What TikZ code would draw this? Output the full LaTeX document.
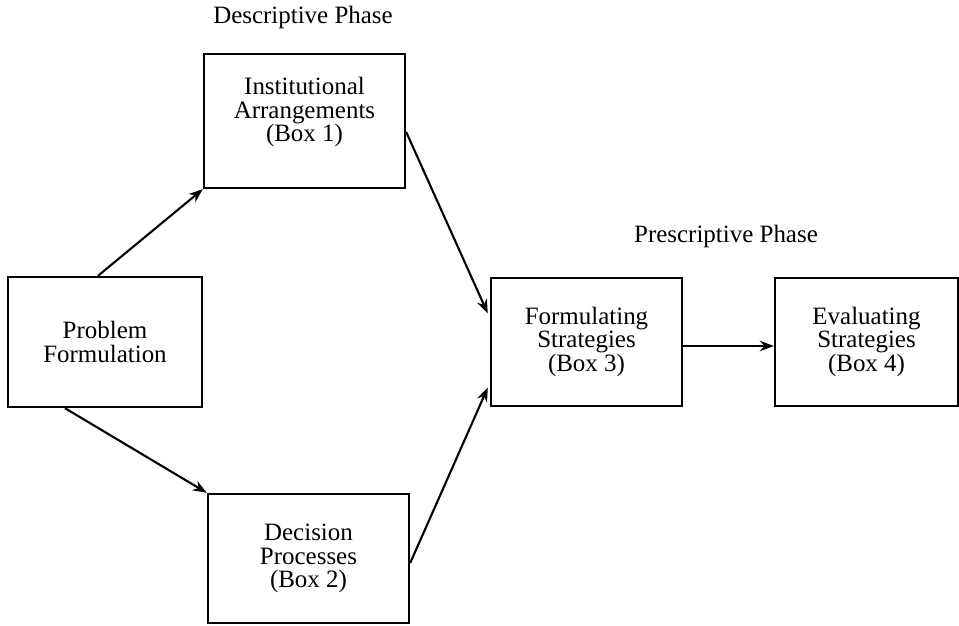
\documentclass[tikz,border=0pt]{standalone}
\usepackage{fontspec}
\setmainfont{Liberation Serif}
\usetikzlibrary{arrows.meta}
\begin{document}
\begin{tikzpicture}[
        box/.style={draw=black, line width=1.35pt, align=center, inner sep=0pt,
            font=\fontsize{14.2}{13.4}\selectfont},
        arr/.style={-{Stealth[length=2.8mm,width=2.1mm]}, line width=1.2pt},
        phase/.style={font=\fontsize{14.2}{13.4}\selectfont}]
        \useasboundingbox (0,0) rectangle (19.18,12.5);
        \node[box, minimum width=3.88cm, minimum height=2.6cm] (prob) at (2.1,5.66) {Problem\\Formulation};
        \node[box, minimum width=4.02cm, minimum height=2.68cm, text depth=0.45cm] (box1) at (6.09,10.08) {Institutional\\Arrangements\\(Box 1)};
        \node[box, minimum width=4.02cm, minimum height=2.58cm] (box2) at (6.17,1.33) {Decision\\Processes\\(Box 2)};
        \node[box, minimum width=3.82cm, minimum height=2.56cm] (box3) at (11.73,5.66) {Formulating\\Strategies\\(Box 3)};
        \node[box, minimum width=3.66cm, minimum height=2.56cm] (box4) at (17.33,5.66) {Evaluating\\Strategies\\(Box 4)};
        \node[phase] (desc) at (6.06,12.14) {Descriptive Phase};
        \node[phase] (presc) at (14.52,7.76) {Prescriptive Phase};
        \draw[arr] ([xshift=-0.14cm]prob.north) -- (box1.south west);
        \draw[arr] ([xshift=-0.8cm]prob.south) -- (box2.north west);
        \draw[arr, shorten >=0.1cm] ([yshift=-0.22cm]box1.east) -- ([yshift=0.48cm]box3.west);
        \draw[arr, shorten >=0.1cm] ([yshift=-0.09cm]box2.east) -- ([yshift=-0.82cm]box3.west);
        \draw[arr] ([yshift=-0.08cm]box3.east) -- ([yshift=-0.08cm]box4.west);
    \end{tikzpicture}
\end{document}
